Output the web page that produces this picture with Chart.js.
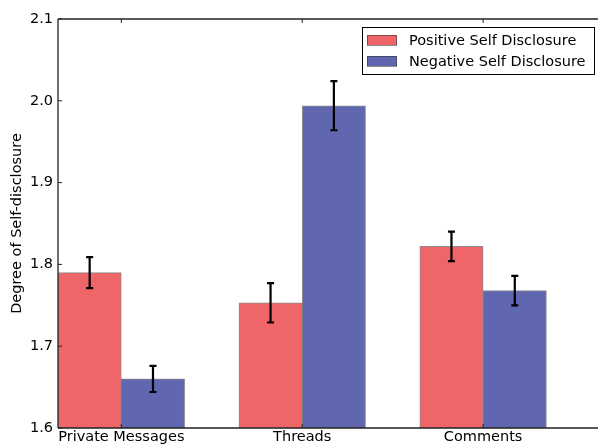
<!DOCTYPE html>
<html><head><meta charset="utf-8">
<script src="https://cdn.jsdelivr.net/npm/chart.js@4/dist/chart.umd.min.js"></script>
<style>html,body{margin:0;padding:0;background:#fff}#wrap{width:598px;height:445px}</style>
</head><body><div id="wrap"><canvas id="c" width="598" height="445"></canvas></div>
<script>
const categories = ['Private Messages', 'Threads', 'Comments'];
const seriesNames = ['Positive Self Disclosure', 'Negative Self Disclosure'];
const positiveValues = [1.790, 1.753, 1.822];
const positiveErrors = [0.019, 0.024, 0.018];
const negativeValues = [1.660, 1.994, 1.768];
const negativeErrors = [0.016, 0.030, 0.018];
const yTicks = [1.6, 1.7, 1.8, 1.9, 2.0, 2.1];
const yTitle = 'Degree of Self-disclosure';
const barWidth = 0.35;
const colors = ['rgb(240,101,104)', 'rgb(96,102,176)'];

const FONT = 'DejaVu Sans';
const FS = 14.5;
const seriesValues = [positiveValues, negativeValues];
const seriesErrors = [positiveErrors, negativeErrors];

const datasets = seriesValues.map((vals, s) => ({
  label: seriesNames[s],
  data: vals.map((v, i) => ({ x: i + barWidth * (s + 0.5), y: v })),
  errors: seriesErrors[s],
  backgroundColor: colors[s],
  borderColor: 'rgba(50,50,50,0.55)',
  borderWidth: 1,
  grouped: false,
  categoryPercentage: 1,
  barPercentage: 1
}));

const extras = {
  id: 'extras',
  afterDatasetsDraw(chart) {
    const ctx = chart.ctx;
    const xs = chart.scales.x, ys = chart.scales.y;
    ctx.save();
    ctx.strokeStyle = '#000';
    ctx.lineWidth = 2.2;
    chart.data.datasets.forEach((ds, s) => {
      ds.data.forEach((p, i) => {
        const e = ds.errors[i];
        const x = xs.getPixelForValue(p.x);
        const y1 = ys.getPixelForValue(p.y + e);
        const y2 = ys.getPixelForValue(p.y - e);
        ctx.beginPath();
        ctx.moveTo(x, y1); ctx.lineTo(x, y2);
        ctx.moveTo(x - 3.5, y1); ctx.lineTo(x + 3.5, y1);
        ctx.moveTo(x - 3.5, y2); ctx.lineTo(x + 3.5, y2);
        ctx.stroke();
      });
    });
    ctx.restore();
  },
  afterDraw(chart) {
    const ctx = chart.ctx;
    const a = chart.chartArea;
    const xs = chart.scales.x, ys = chart.scales.y;
    ctx.save();
    ctx.strokeStyle = '#222';
    ctx.lineWidth = 1.3;
    ctx.beginPath();
    ctx.moveTo(a.left, a.top); ctx.lineTo(a.right, a.top);
    ctx.moveTo(a.left, a.top); ctx.lineTo(a.left, a.bottom);
    ctx.moveTo(a.left, a.bottom); ctx.lineTo(a.right, a.bottom);
    ctx.stroke();
    ctx.lineWidth = 1;
    ctx.beginPath();
    ys.ticks.forEach((t, i) => {
      const y = ys.getPixelForTick(i);
      ctx.moveTo(a.left, y); ctx.lineTo(a.left + 4, y);
    });
    xs.ticks.forEach((t, i) => {
      const x = xs.getPixelForTick(i);
      ctx.moveTo(x, a.top); ctx.lineTo(x, a.top + 4);
      ctx.moveTo(x, a.bottom); ctx.lineTo(x, a.bottom - 4);
    });
    ctx.stroke();
    const lx = 362, ly = 27, lw = 232, lh = 47;
    ctx.fillStyle = '#fff';
    ctx.fillRect(lx, ly, lw, lh);
    ctx.strokeStyle = '#000';
    ctx.lineWidth = 1;
    ctx.strokeRect(lx + 0.5, ly + 0.5, lw, lh);
    ctx.font = FS + 'px "' + FONT + '"';
    ctx.textBaseline = 'middle';
    ctx.textAlign = 'left';
    chart.data.datasets.forEach((ds, s) => {
      const cy = ly + 13 + s * 21;
      ctx.fillStyle = ds.backgroundColor;
      ctx.fillRect(lx + 5, cy - 5, 30, 10);
      ctx.strokeStyle = 'rgba(50,50,50,0.55)';
      ctx.strokeRect(lx + 5.5, cy - 4.5, 29, 10);
      ctx.fillStyle = '#000';
      ctx.fillText(ds.label, lx + 47, cy + 1);
    });
    ctx.restore();
  }
};

new Chart(document.getElementById('c'), {
  type: 'bar',
  data: { datasets },
  options: {
    responsive: false,
    animation: false,
    devicePixelRatio: 1,
    layout: { padding: { top: 19, right: 0, left: 0, bottom: 0 } },
    plugins: { legend: { display: false }, tooltip: { enabled: false } },
    scales: {
      x: {
        type: 'linear', min: 0, max: 2.985, offset: false,
        afterBuildTicks: (sc) => { sc.ticks = categories.map((c, i) => ({ value: i + barWidth })); },
        afterFit: (sc) => { sc.height = 17; },
        grid: { display: false, drawTicks: false, offset: false },
        border: { display: false },
        ticks: {
          autoSkip: false, maxRotation: 0, padding: 1,
          color: '#000', font: { family: FONT, size: FS },
          callback: (v) => categories[Math.round(v - barWidth)]
        }
      },
      y: {
        min: 1.6, max: 2.1,
        afterBuildTicks: (sc) => { sc.ticks = yTicks.map(v => ({ value: v })); },
        afterFit: (sc) => { sc.width = 58; },
        grid: { display: false, drawTicks: false },
        border: { display: false },
        ticks: {
          padding: 5, color: '#000', font: { family: FONT, size: FS },
          callback: (v) => Number(v).toFixed(1)
        },
        title: { display: true, text: yTitle, color: '#000', font: { family: FONT, size: FS }, padding: { top: 9, bottom: 0 } }
      }
    }
  },
  plugins: [extras]
});
</script></body></html>
